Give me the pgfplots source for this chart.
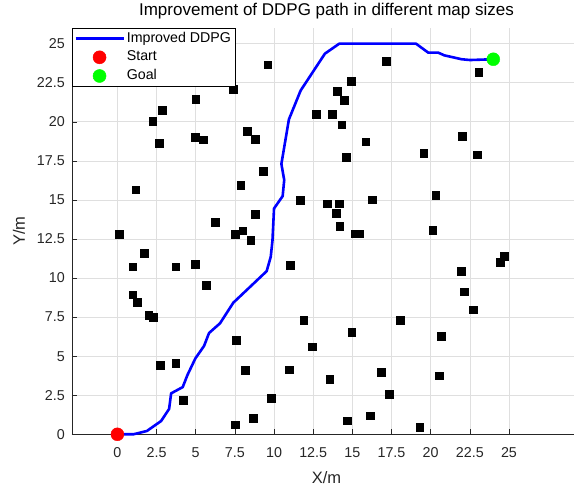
\documentclass[border=0pt]{standalone}
\usepackage{pgfplots}
\pgfplotsset{compat=1.18}
\usepackage{fontspec}
\setmainfont{Liberation Sans}
\definecolor{axc}{RGB}{38,38,38}
\definecolor{gridc}{RGB}{223,223,223}
\pgfplotsset{
  lineleg/.style={legend image code/.code={\draw[##1] (0pt,0pt) -- (48pt,0pt);}},
  markleg/.style={legend image code/.code={\draw[opacity=0] (0pt,-1pt) rectangle (48pt,1pt);\draw[mark repeat=2,mark phase=2,##1] plot coordinates {(0pt,0pt) (24pt,0pt) (48pt,0pt)};}},
}
\begin{document}
\begin{tikzpicture}
\path[use as bounding box] (-72pt,-51.7pt) rectangle (502pt,434.3pt);
\begin{axis}[
  at={(0pt,0pt)}, anchor=south west,
  scale only axis, width=509pt, height=406.3pt,
  xmin=-2.9, xmax=29.6, ymin=0, ymax=26,
  enlargelimits=false, clip=false,
  axis lines=left, axis line style={-, axc, line width=0.5pt},
  xtick={0,2.5,...,25}, ytick={0,2.5,...,25},
  xticklabels={0,2.5,5,7.5,10,12.5,15,17.5,20,22.5,25},
  yticklabels={0,2.5,5,7.5,10,12.5,15,17.5,20,22.5,25},
  tick align=inside, major tick length=5pt,
  tick style={axc, line width=0.5pt},
  grid=major, major grid style={gridc, line width=0.6pt},
  /pgf/number format/assume math mode=true,
  ticklabel style={font=\fontsize{14.3}{16}\selectfont, text=axc},
  xticklabel style={anchor=base, yshift=-23.4pt, inner sep=0pt},
  yticklabel style={anchor=east, xshift=-7pt, inner sep=0pt},
  title={Improvement of DDPG path in different map sizes},
  title style={at={(axis description cs:0.5,1.0165)}, anchor=base, font=\fontsize{17}{19}\selectfont, inner sep=0pt},
  xlabel={X/m}, ylabel={Y/m},
  xlabel style={at={(axis description cs:0.5,-0.1206)}, anchor=base, font=\fontsize{16.5}{18}\selectfont, text=axc, inner sep=0pt},
  ylabel style={at={(axis description cs:-0.1041,0.5)}, anchor=center, font=\fontsize{16.5}{18}\selectfont, text=axc, inner sep=0pt},
  legend style={at={(axis description cs:0,1)}, anchor=north west, draw=black, line width=0.5pt, fill=white,
    inner xsep=2pt, inner ysep=1pt, row sep=0pt,
    nodes={font=\fontsize{14.2}{16}\selectfont, text height=10pt, text depth=3pt, inner ysep=2.85pt, inner xsep=2pt}},
  legend cell align=left,
]
\addplot[only marks, mark=square*, mark size=3.85pt, mark options={fill=black, draw=black}, forget plot] table {
9.6 23.66
7.4 22.1
5.0 21.44
2.87 20.73
2.26 20.03
4.96 19.03
5.49 18.86
2.68 18.65
8.28 19.39
8.81 18.9
9.32 16.85
7.87 15.94
1.17 15.66
8.79 14.09
6.24 13.57
8.0 13.02
7.51 12.81
8.51 12.42
0.11 12.81
11.65 14.97
1.7 11.61
0.98 10.72
3.73 10.72
4.96 10.89
5.68 9.53
0.98 8.93
1.26 8.44
2.0 7.61
2.3 7.48
7.57 6.03
2.72 4.43
3.73 4.56
8.15 4.09
4.21 2.17
9.81 2.30
8.66 1.04
7.53 0.61
11.04 10.84
10.98 4.13
17.15 23.87
23.06 23.16
14.93 22.59
14.04 21.95
14.47 21.37
12.68 20.5
13.7 20.5
14.32 19.82
22.0 19.09
15.85 18.73
19.55 17.98
22.95 17.9
14.62 17.75
20.32 15.32
16.25 15.02
13.38 14.75
14.15 14.75
13.96 14.15
14.19 13.32
15.15 12.83
15.47 12.83
20.13 13.04
24.7 11.4
24.42 11.02
21.95 10.42
22.14 9.12
22.72 7.97
11.9 7.31
18.06 7.29
14.96 6.54
20.66 6.26
12.45 5.6
13.55 3.54
16.85 3.96
20.55 3.75
17.36 2.58
16.13 1.19
14.66 0.87
19.3 0.47
};
\addplot[blue, line width=2.6pt, line join=round, no marks, lineleg] coordinates {
(0,0) (1.02,0) (1.88,0.21) (2.79,0.85) (3.3,1.62) (3.43,2.62) (4.17,3.02) (4.47,3.79) (4.98,4.86) (5.53,5.65) (5.85,6.48) (6.55,7.1) (7.4,8.42) (9.53,10.44) (9.79,11.36) (9.9,12.4) (10.0,14.45) (10.55,15.24) (10.65,16.27) (10.47,17.3) (10.95,20.15) (11.7,22.0) (13.25,24.36) (14.17,25.0) (19.06,25.0) (19.85,24.42) (20.49,24.42) (20.87,24.25) (21.98,24.0) (22.51,23.95) (24,24)
};
\addlegendentry{Improved DDPG}
\addplot[only marks, mark=*, mark size=6.5pt, mark options={fill=red, draw=red}, markleg] coordinates {(0,0)};
\addlegendentry{Start}
\addplot[only marks, mark=*, mark size=6.5pt, mark options={fill=green, draw=green}, markleg] coordinates {(24,24)};
\addlegendentry{Goal}
\end{axis}
\end{tikzpicture}
\end{document}
